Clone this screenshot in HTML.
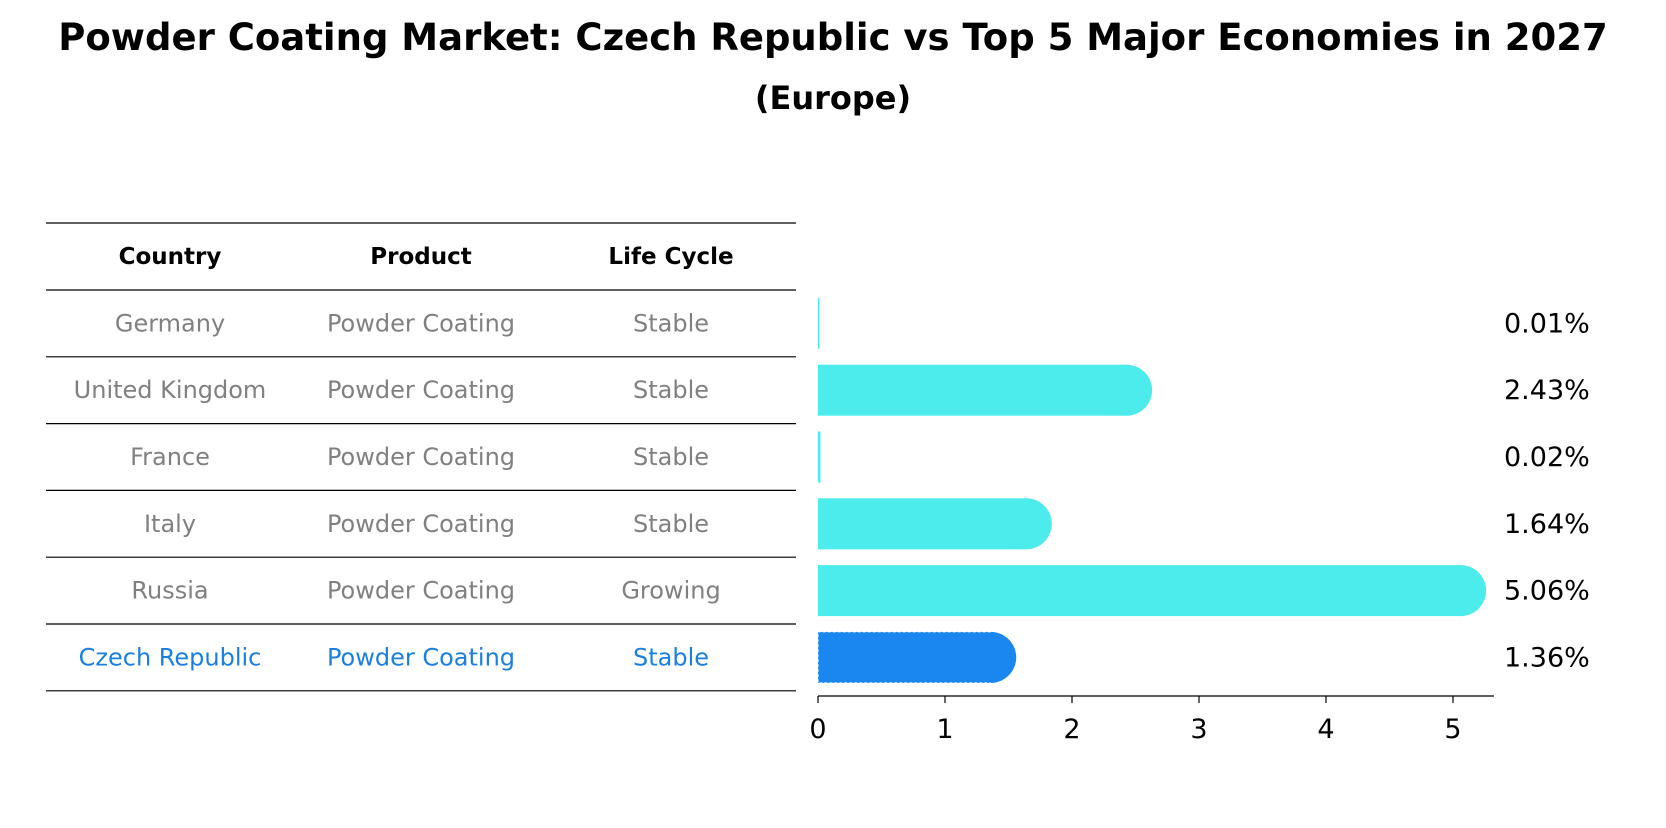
<!DOCTYPE html>
<html><head><meta charset="utf-8"><style>
body{margin:0;background:#fff;font-family:"Liberation Sans","DejaVu Sans",sans-serif}
svg text{font-family:"DejaVu Sans","Liberation Sans",sans-serif}
</style></head><body>
<svg id="chart" width="1666" height="823" xmlns="http://www.w3.org/2000/svg">
<text x="833" y="50" text-anchor="middle" font-size="37" font-weight="bold">Powder Coating Market: Czech Republic vs Top 5 Major Economies in 2027</text>
<text x="833" y="109" text-anchor="middle" font-size="32" font-weight="bold">(Europe)</text>
<g id="table"></g>
<g id="bars"></g>
<g id="axis"></g>
</svg>
<script>
const countries=["Germany","United Kingdom","France","Italy","Russia","Czech Republic"];
const products=["Powder Coating","Powder Coating","Powder Coating","Powder Coating","Powder Coating","Powder Coating"];
const lifeCycles=["Stable","Stable","Stable","Stable","Growing","Stable"];
const values=[0.01,2.43,0.02,1.64,5.06,1.36];
const valueLabels=["0.01%","2.43%","0.02%","1.64%","5.06%","1.36%"];
const ticks=[0,1,2,3,4,5];
const NS="http://www.w3.org/2000/svg";
function mk(t,a,p){const e=document.createElementNS(NS,t);for(const k in a)e.setAttribute(k,a[k]);p.appendChild(e);return e;}
const x0=818,pxu=127,rowTop=290,rowH=66.8,barH=51;
const xs=v=>x0+v*pxu;
const yc=i=>rowTop+rowH*(i+0.5);
const tbl=document.getElementById('table');
const cols=[170,421,671];
const hy=256;
["Country","Product","Life Cycle"].forEach((h,j)=>{const t=mk('text',{x:cols[j],y:hy+8,'text-anchor':'middle','font-size':23,'font-weight':'bold'},tbl);t.textContent=h;

});
const lineYs=[223,290];
countries.forEach((c,i)=>lineYs.push(rowTop+rowH*(i+1)));
lineYs.forEach(y=>{const l=mk('line',{x1:46,x2:796,y1:y,y2:y,stroke:'#000','stroke-width':1.2},tbl);

});
countries.forEach((c,i)=>{
 const col=i===countries.length-1?'#1a80e0':'#808080';
 [c,products[i],lifeCycles[i]].forEach((s,j)=>{const t=mk('text',{x:cols[j],y:yc(i)+8,'text-anchor':'middle','font-size':24,fill:col},tbl);t.textContent=s;
 
 });
});
const bars=document.getElementById('bars');
values.forEach((v,i)=>{
 const last=i===values.length-1;
 const col=last?'#1a86f0':'#4beceb';
 const g=mk('g',{},bars);
 
 
 const w=xs(v)-x0;
 mk('rect',{x:x0,y:yc(i)-barH/2,width:Math.max(w,1.5),height:barH,fill:col},g);
 if(v>0.1) mk('circle',{cx:xs(v),cy:yc(i),r:barH/2,fill:col},g);
 if(last){const t0=yc(i)-barH/2,b0=yc(i)+barH/2;
  mk('path',{d:`M${xs(v)},${t0} H${x0} V${b0} H${xs(v)}`,fill:'none',stroke:'#fff','stroke-width':1,'stroke-dasharray':'3 2'},g);}
 const t=mk('text',{x:1504,y:yc(i)+9,'font-size':27},bars);t.textContent=valueLabels[i];
 
 
});
const ax=document.getElementById('axis');
mk('line',{x1:x0,x2:1494,y1:696,y2:696,stroke:'#000','stroke-width':1.3},ax);
ticks.forEach(tk=>{mk('line',{x1:xs(tk),x2:xs(tk),y1:696,y2:703,stroke:'#000','stroke-width':1.2},ax);
 const t=mk('text',{x:xs(tk),y:738,'text-anchor':'middle','font-size':27},ax);t.textContent=tk;
 
 });
</script>
</body></html>
